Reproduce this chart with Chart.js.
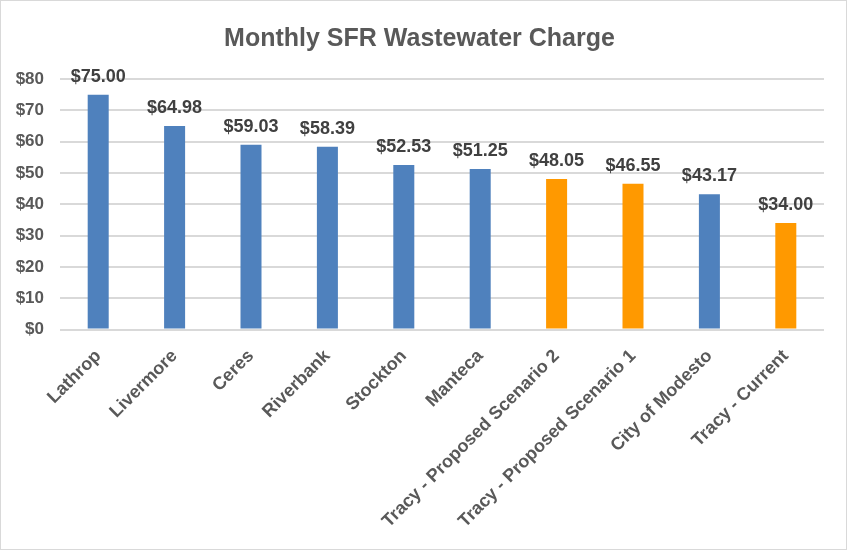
<!DOCTYPE html>
<html>
<head>
<meta charset="utf-8">
<script src="https://cdn.jsdelivr.net/npm/chart.js@4"></script>
<style>
  html, body { margin: 0; padding: 0; background: #fff; }
  #wrap { width: 847px; height: 550px; box-sizing: border-box; border: 1px solid #d9d9d9; position: relative; }
  canvas { display: block; }
</style>
</head>
<body>
<div id="wrap"><canvas id="chart" width="845" height="548"></canvas></div>
<script>
// Data
const cities = ["Lathrop", "Livermore", "Ceres", "Riverbank", "Stockton", "Manteca",
  "Tracy - Proposed Scenario 2", "Tracy - Proposed Scenario 1", "City of Modesto", "Tracy - Current"];
const charges = [75.00, 64.98, 59.03, 58.39, 52.53, 51.25, 48.05, 46.55, 43.17, 34.00];
const isTracy = [false, false, false, false, false, false, true, true, false, true];

const blue = "#4f81bd";
const orange = "#ff9900";
const fontFam = "'Liberation Sans', Arial, sans-serif";

// simple plugin to write the value above each bar
const valueLabels = {
  id: "valueLabels",
  afterDatasetsDraw(chart) {
    const ctx = chart.ctx;
    const meta = chart.getDatasetMeta(0);
    ctx.save();
    ctx.font = "bold 18px " + fontFam;
    ctx.fillStyle = "#404040";
    ctx.textAlign = "center";
    ctx.textBaseline = "bottom";
    meta.data.forEach((bar, i) => {
      ctx.fillText("$" + charges[i].toFixed(2), bar.x, bar.y - 9);
    });
    ctx.restore();
  }
};

const ctx = document.getElementById("chart").getContext("2d");
new Chart(ctx, {
  type: "bar",
  data: {
    labels: cities,
    datasets: [{
      data: charges,
      backgroundColor: isTracy.map(t => t ? orange : blue),
      barPercentage: 0.55,
      categoryPercentage: 0.5,
    }],
  },
  options: {
    responsive: false,
    animation: false,
    layout: { padding: { left: 14, right: 22, top: 14, bottom: 9 } },
    plugins: {
      legend: { display: false },
      tooltip: { enabled: false },
      title: {
        display: true,
        text: "Monthly SFR Wastewater Charge",
        color: "#595959",
        font: { family: fontFam, size: 25, weight: "bold" },
        padding: { top: 9, bottom: 25 },
      },
    },
    scales: {
      x: {
        grid: { display: false },
        border: { display: false },
        ticks: {
          color: "#595959",
          font: { family: fontFam, size: 18, weight: "bold" },
          maxRotation: 45,
          minRotation: 45,
          autoSkip: false,
          padding: 8,
        },
        // the rotated first label fits anyway, so don't push the plot right
        afterFit: scale => { scale.paddingLeft = 0; },
      },
      y: {
        min: 0,
        max: 80,
        grid: { color: "#d9d9d9", lineWidth: 2, drawTicks: false },
        border: { display: false },
        ticks: {
          stepSize: 10,
          padding: 16,
          color: "#595959",
          font: { family: fontFam, size: 17, weight: "bold" },
          callback: v => "$" + v,
        },
        afterFit: scale => { scale.width = 45; },
      },
    },
  },
  plugins: [valueLabels],
});
</script>
</body>
</html>
